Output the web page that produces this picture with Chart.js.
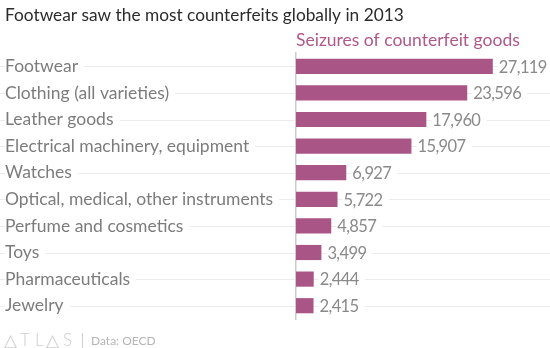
<!DOCTYPE html>
<html>
<head>
<meta charset="utf-8">
<script src="https://cdn.jsdelivr.net/npm/chart.js@4"></script>
<style>
  html, body { margin: 0; padding: 0; background: #fff; }
  #wrap { width: 550px; height: 348px; position: relative; }
</style>
</head>
<body>
<div id="wrap"><canvas id="c" width="550" height="348"></canvas></div>
<script>
// Seizures of counterfeit goods by category, 2013
const categories = [
  'Footwear',
  'Clothing (all varieties)',
  'Leather goods',
  'Electrical machinery, equipment',
  'Watches',
  'Optical, medical, other instruments',
  'Perfume and cosmetics',
  'Toys',
  'Pharmaceuticals',
  'Jewelry'
];
const seizures = [27119, 23596, 17960, 15907, 6927, 5722, 4857, 3499, 2444, 2415];

const titleText = 'Footwear saw the most counterfeits globally in 2013';
const subtitleText = 'Seizures of counterfeit goods';
const sourceText = 'Data: OECD';

const FONT = 'Lato, "Open Sans", sans-serif';
const BAR = 'rgb(169,85,134)';
const ACCENT = 'rgb(176,88,138)';

// Light row guides running the full width, under labels and bars
const rowGuides = {
  id: 'rowGuides',
  beforeDraw(chart) {
    const { ctx } = chart;
    const y = chart.scales.y;
    ctx.save();
    ctx.strokeStyle = '#ececec';
    ctx.lineWidth = 1;
    y.ticks.forEach((t, i) => {
      const py = Math.round(y.getPixelForTick(i)) + 0.5;
      ctx.beginPath();
      ctx.moveTo(0, py);
      ctx.lineTo(chart.width, py);
      ctx.stroke();
    });
    ctx.restore();
  }
};

// Value labels at the end of each bar, with a white backing
const valueLabels = {
  id: 'valueLabels',
  afterDatasetsDraw(chart) {
    const { ctx } = chart;
    const meta = chart.getDatasetMeta(0);
    ctx.save();
    ctx.font = '16.5px ' + FONT;
    ctx.letterSpacing = '-0.6px';
    ctx.textBaseline = 'middle';
    meta.data.forEach((bar, i) => {
      const txt = seizures[i].toLocaleString('en-US');
      const x = bar.x + 6;
      const w = ctx.measureText(txt).width;
      ctx.fillStyle = '#fff';
      ctx.fillRect(x - 1, bar.y - 8, w + 7, 16);
      ctx.fillStyle = '#8a8a8a';
      ctx.fillText(txt, x, bar.y + 1);
    });
    ctx.restore();
  }
};

// Headline, series caption and source line
const frame = {
  id: 'frame',
  afterDraw(chart) {
    const { ctx } = chart;
    const area = chart.chartArea;
    ctx.save();
    ctx.textBaseline = 'middle';
    ctx.textAlign = 'left';
    ctx.font = '17.3px ' + FONT;
    ctx.fillStyle = '#2b2b2b';
    ctx.fillText(titleText, 5, 15);
    ctx.font = '17.5px ' + FONT;
    ctx.fillStyle = ACCENT;
    ctx.fillText(subtitleText, area.left, 40);

    // wordmark
    ctx.font = '300 17px ' + FONT;
    ctx.fillStyle = '#cfcfcf';
    const marks = [['\u25B3', 4], ['T', 20], ['L', 35], ['\u25B3', 46], ['S', 63]];
    marks.forEach(([ch, x]) => ctx.fillText(ch, x, 341));
    ctx.fillRect(82, 333, 1, 16);
    ctx.font = '12px ' + FONT;
    ctx.fillStyle = '#b5b5b5';
    ctx.fillText(sourceText, 91, 341);
    ctx.restore();
  }
};

new Chart(document.getElementById('c'), {
  type: 'bar',
  data: {
    labels: categories,
    datasets: [{
      data: seizures,
      backgroundColor: BAR,
      borderWidth: 0,
      barPercentage: 0.6,
      categoryPercentage: 0.95
    }]
  },
  options: {
    indexAxis: 'y',
    responsive: false,
    animation: false,
    devicePixelRatio: 1,
    layout: { padding: { left: 5, right: 0, top: 53, bottom: 29 } },
    plugins: {
      legend: { display: false },
      tooltip: { enabled: false }
    },
    scales: {
      x: {
        display: false,
        min: 0,
        max: 35000
      },
      y: {
        grid: { display: false, drawTicks: false },
        border: { display: true, color: '#cccccc', width: 1.5 },
        afterFit(scale) { scale.width = 291; },
        ticks: {
          crossAlign: 'far',
          padding: 0,
          color: '#7c7c7c',
          font: { family: FONT, size: 17.5 },
          showLabelBackdrop: true,
          backdropColor: '#ffffff',
          backdropPadding: { top: 0, bottom: 0, left: 0, right: 6 }
        }
      }
    }
  },
  plugins: [rowGuides, valueLabels, frame]
});
</script>
</body>
</html>
